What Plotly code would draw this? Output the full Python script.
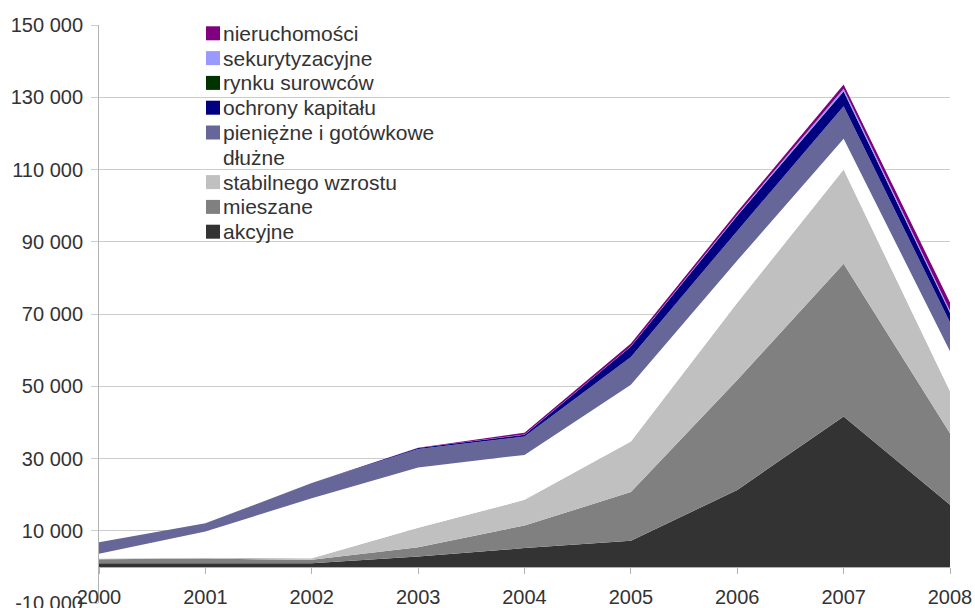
import plotly.graph_objects as go

# ---- data ----
years = [2000, 2001, 2002, 2003, 2004, 2005, 2006, 2007, 2008]

# series listed bottom -> top of the stack
series_names = ["akcyjne", "mieszane", "stabilnego wzrostu", "dłużne",
                "pieniężne i gotówkowe", "ochrony kapitału", "rynku surowców",
                "sekurytyzacyjne", "nieruchomości"]
akcyjne = [1000, 1000, 1000, 2900, 5200, 7200, 21300, 41600, 17200]
mieszane = [1100, 1300, 950, 2550, 6250, 13500, 30400, 42300, 19800]
stabilnego_wzrostu = [200, 200, 450, 5350, 7100, 14000, 21400, 26100, 11600]
dluzne = [1300, 7300, 16600, 16700, 12450, 15700, 11700, 8500, 11100]
pieniezne = [3250, 2250, 4200, 5100, 5100, 7700, 8200, 9000, 8000]
ochrony_kapitalu = [0, 0, 0, 300, 500, 2900, 4200, 4100, 2600]
rynku_surowcow = [0, 0, 0, 0, 0, 0, 0, 50, 100]
sekurytyzacyjne = [0, 0, 0, 0, 50, 100, 300, 700, 500]
nieruchomosci = [0, 0, 0, 100, 500, 700, 800, 1200, 2300]

series_values = [akcyjne, mieszane, stabilnego_wzrostu, dluzne, pieniezne,
                 ochrony_kapitalu, rynku_surowcow, sekurytyzacyjne, nieruchomosci]
colors = ["#333333", "#808080", "#c0c0c0", "#ffffff", "#666699",
          "#000080", "#003300", "#9999ff", "#800080"]

y_tickvals = [-10000, 10000, 30000, 50000, 70000, 90000, 110000, 130000, 150000]
y_ticktext = ["-10 000", "10 000", "30 000", "50 000", "70 000", "90 000",
              "110 000", "130 000", "150 000"]
x_ticktext = [str(y) for y in years]

# ---- layout geometry (pixels) ----
W, H = 975, 608
ML, MR, MT, MB = 99, 25, 25, 5
PW, PH = W - ML - MR, H - MT - MB
FONT = "Liberation Sans, Arial, sans-serif"


def px_x(p):
    return (p - ML) / PW


def px_y(p):
    return (H - MB - p) / PH


fig = go.Figure()
for name, vals, col in zip(series_names, series_values, colors):
    fig.add_trace(go.Scatter(
        x=years, y=vals, name=name, stackgroup="one", mode="none",
        fillcolor=col, showlegend=False,
        hovertemplate=name + ": %{y}<extra></extra>"))

# ---- hand-drawn legend (top entry first) ----
shapes = []
annotations = []
leg_x0, leg_y0, leg_step, box = 206, 33.3, 24.8, 14
for i, (name, col) in enumerate(zip(series_names[::-1], colors[::-1])):
    cy = leg_y0 + i * leg_step
    shapes.append(dict(type="rect", xref="paper", yref="paper",
                       x0=px_x(leg_x0), x1=px_x(leg_x0 + box),
                       y0=px_y(cy + box / 2), y1=px_y(cy - box / 2),
                       fillcolor=col, line=dict(width=0), layer="above"))
    annotations.append(dict(xref="paper", yref="paper", x=px_x(leg_x0 + box + 1),
                            y=px_y(cy), text=name, showarrow=False,
                            xanchor="left", yanchor="middle",
                            font=dict(family=FONT, size=21, color="#333333")))

zero_pos = (0 - y_tickvals[0]) / (150000 - y_tickvals[0])

fig.update_layout(
    width=W, height=H,
    margin=dict(l=ML, r=MR, t=MT, b=MB, pad=0, autoexpand=False),
    paper_bgcolor="white", plot_bgcolor="white",
    showlegend=False,
    shapes=shapes, annotations=annotations,
    font=dict(family=FONT, size=20, color="#333333"),
    xaxis=dict(range=[2000, 2008], tickvals=years, ticktext=x_ticktext,
               anchor="free", position=zero_pos, automargin=False,
               showline=True, linecolor="#b3b3b3", linewidth=1,
               ticks="outside", ticklen=6, tickcolor="#b3b3b3",
               showgrid=False, zeroline=False, ticklabelstandoff=6,
               ticklabeloverflow="allow",
               tickfont=dict(family=FONT, size=20, color="#333333")),
    yaxis=dict(range=[-10000, 150000], tickvals=y_tickvals, ticktext=y_ticktext,
               automargin=False, ticklabeloverflow="allow",
               showgrid=True, gridcolor="#cccccc", gridwidth=1,
               showline=True, linecolor="#b3b3b3", linewidth=1,
               ticks="outside", ticklen=7, tickcolor="#cccccc",
               zeroline=False, ticklabelstandoff=4,
               tickfont=dict(family=FONT, size=20, color="#333333")),
)

fig.write_html("out.html")
